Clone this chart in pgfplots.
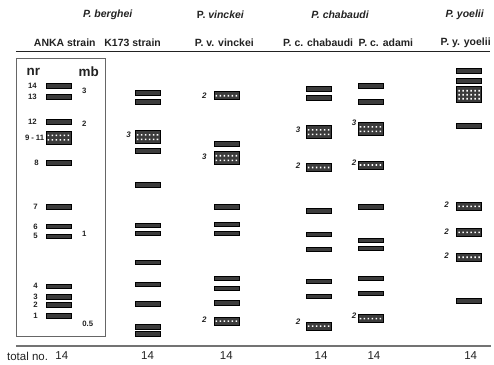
\documentclass[border=0pt]{standalone}
\usepackage{pgfplots}
\pgfplotsset{compat=1.18}
\usepackage{fontspec}
\setmainfont{Liberation Sans}
\definecolor{bandgray}{HTML}{3C3C3C}
\definecolor{ink}{HTML}{222222}
\definecolor{dotc}{HTML}{FFFFFF}

\newcommand\dotrow[1]{%
 \pgfpathrectangle{\pgfpoint{-10.8pt}{#1pt-0.8pt}}{\pgfpoint{1.6pt}{1.6pt}}%
 \pgfpathrectangle{\pgfpoint{-6.8pt}{#1pt-0.8pt}}{\pgfpoint{1.6pt}{1.6pt}}%
 \pgfpathrectangle{\pgfpoint{-2.8pt}{#1pt-0.8pt}}{\pgfpoint{1.6pt}{1.6pt}}%
 \pgfpathrectangle{\pgfpoint{1.2pt}{#1pt-0.8pt}}{\pgfpoint{1.6pt}{1.6pt}}%
 \pgfpathrectangle{\pgfpoint{5.2pt}{#1pt-0.8pt}}{\pgfpoint{1.6pt}{1.6pt}}%
 \pgfpathrectangle{\pgfpoint{9.2pt}{#1pt-0.8pt}}{\pgfpoint{1.6pt}{1.6pt}}%
}
\pgfdeclareplotmark{b1}{%
 \pgfpathrectangle{\pgfpoint{-12.5pt}{-2.4pt}}{\pgfpoint{25pt}{4.8pt}}%
 \pgfusepathqfillstroke}
\pgfdeclareplotmark{b2}{%
 \pgfpathrectangle{\pgfpoint{-12.5pt}{-4pt}}{\pgfpoint{25pt}{8pt}}%
 \pgfusepathqfillstroke
 \pgfscope\pgfsetfillcolor{dotc}\dotrow{0}\pgfusepathqfill\endpgfscope}
\pgfdeclareplotmark{b3}{%
 \pgfpathrectangle{\pgfpoint{-12.5pt}{-6.5pt}}{\pgfpoint{25pt}{13pt}}%
 \pgfusepathqfillstroke
 \pgfscope\pgfsetfillcolor{dotc}\dotrow{-2.3}\dotrow{2.3}\pgfusepathqfill\endpgfscope}
\pgfdeclareplotmark{b4}{%
 \pgfpathrectangle{\pgfpoint{-12.5pt}{-8pt}}{\pgfpoint{25pt}{16pt}}%
 \pgfusepathqfillstroke
 \pgfscope\pgfsetfillcolor{dotc}\dotrow{-4}\dotrow{0}\dotrow{4}\pgfusepathqfill\endpgfscope}

\begin{document}
\begin{tikzpicture}
\begin{axis}[hide axis, scale only axis, width=494pt, height=366pt,
  xmin=0, xmax=494, ymin=0, ymax=366, y dir=reverse, clip=false]
\path (axis cs:0,0) rectangle (axis cs:494,366);
% single bands
\addplot[only marks, mark=b1, mark options={draw=black, fill=bandgray, line width=0.5pt}] coordinates {
 (58.5,86) (58.5,97) (58.5,122) (58.5,163) (58.5,207) (58.5,227) (58.5,237) (58.5,287) (58.5,298) (58.5,306) (58.5,317)
 (148,93) (148,102) (148,151) (148,185) (148,226) (148,234) (148,263) (148,285) (148,305) (148,328) (148,335)
 (227,144) (227,207) (227,225) (227,234) (227,279) (227,289) (227,304)
 (319.5,89) (319.5,98) (319.5,211) (319.5,235) (319.5,250) (319.5,282) (319.5,297)
 (371.5,86) (371.5,102) (371.5,207) (371.5,241) (371.5,249) (371.5,279) (371.5,294)
 (470.5,71) (470.5,81) (470.5,126) (470.5,302)
};
% double bands
\addplot[only marks, mark=b2, mark options={draw=black, fill=bandgray, line width=0.5pt}] coordinates {
 (227,96) (227,322)
 (319.5,168) (319.5,327)
 (371.5,165.5) (371.5,319.5)
 (470.5,207) (470.5,233) (470.5,258)
};
% triple bands
\addplot[only marks, mark=b3, mark options={draw=black, fill=bandgray, line width=0.5pt}] coordinates {
 (58.5,138) (148,137.5) (227,158.5) (319.5,132.5) (371.5,129.5)
};
% quadruple band
\addplot[only marks, mark=b4, mark options={draw=black, fill=bandgray, line width=0.5pt}] coordinates {
 (470.5,95)
};

% frame and rules
\draw[black!60, line width=0.7pt] (axis cs:16,59) rectangle (axis cs:106,337);
\draw[ink, line width=1pt] (axis cs:16,52) -- (axis cs:491,52);
\draw[black!55, line width=1.4pt] (axis cs:16,347) -- (axis cs:492,347);

% headers
\begin{scope}[every node/.style={font=\fontsize{10.5}{12}\selectfont\bfseries, text=ink}]
\node at (axis cs:108,15) {\itshape P. berghei};
\node at (axis cs:221,15) {P. \itshape vinckei};
\node at (axis cs:341,15) {\itshape P. chabaudi};
\node at (axis cs:466,15) {\itshape P. yoelii};
\node at (axis cs:65,43) {ANKA strain};
\node at (axis cs:133,43) {K173 strain};
\node at (axis cs:225,43) {P. v. vinckei};
\node at (axis cs:319,43) {P. c. chabaudi};
\node at (axis cs:387,43) {P. c. adami};
\node at (axis cs:467,43) {P. y. yoelii};
\end{scope}

% box labels
\node[font=\fontsize{13.5}{14}\selectfont\bfseries, text=ink] at (axis cs:33.5,72) {nr};
\node[font=\fontsize{13.5}{14}\selectfont\bfseries, text=ink] at (axis cs:89,72) {mb};
\begin{scope}[every node/.style={font=\fontsize{7.8}{9}\selectfont\bfseries, text=ink, anchor=east, inner sep=0pt}]
\node at (axis cs:37,86) {14};
\node at (axis cs:37,97) {13};
\node at (axis cs:37,122) {12};
\node at (axis cs:44.5,138) {9\hspace{2pt}-\hspace{2pt}11};
\node at (axis cs:39,163) {8};
\node at (axis cs:38,207) {7};
\node at (axis cs:38,227) {6};
\node at (axis cs:38,237) {5};
\node at (axis cs:38,287) {4};
\node at (axis cs:38,298) {3};
\node at (axis cs:38,306) {2};
\node at (axis cs:38,317) {1};
\end{scope}
\begin{scope}[every node/.style={font=\fontsize{7.8}{9}\selectfont\bfseries, text=ink, inner sep=0pt}]
\node at (axis cs:84.5,91) {3};
\node at (axis cs:84.5,124) {2};
\node at (axis cs:84.5,235) {1};
\node at (axis cs:88,325) {0.5};
\end{scope}

% multiplicity labels
\begin{scope}[every node/.style={font=\fontsize{8}{9}\selectfont\bfseries\itshape, text=ink, inner sep=0pt}]
\node at (axis cs:129,135) {3};
\node at (axis cs:205,96) {2};
\node at (axis cs:205,157) {3};
\node at (axis cs:205,321) {2};
\node at (axis cs:299,130) {3};
\node at (axis cs:299,166) {2};
\node at (axis cs:299,323) {2};
\node at (axis cs:355,123) {3};
\node at (axis cs:355,163) {2};
\node at (axis cs:355,317) {2};
\node at (axis cs:448,205) {2};
\node at (axis cs:448,232) {2};
\node at (axis cs:448,256) {2};
\end{scope}

% totals
\begin{scope}[every node/.style={font=\fontsize{11.5}{13}\selectfont, text=ink}]
\node[anchor=west, inner sep=0pt] at (axis cs:7,357) {total no.};
\node at (axis cs:62,357) {14};
\node at (axis cs:148,357) {14};
\node at (axis cs:227,357) {14};
\node at (axis cs:322,357) {14};
\node at (axis cs:375,357) {14};
\node at (axis cs:472,357) {14};
\end{scope}
\end{axis}
\end{tikzpicture}
\end{document}
